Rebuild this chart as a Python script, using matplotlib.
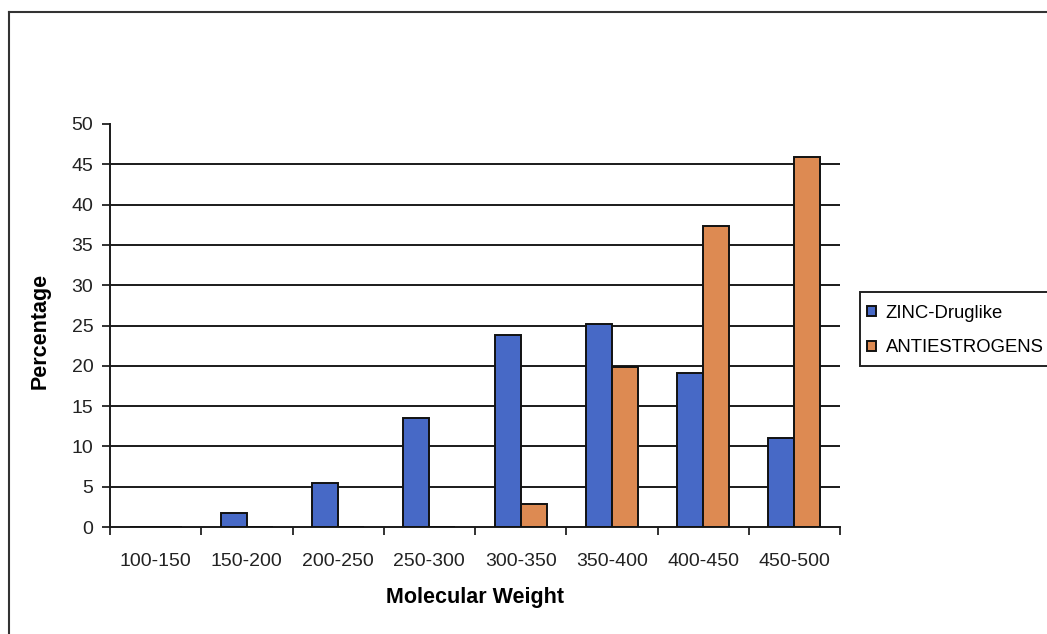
import matplotlib
matplotlib.use("Agg")
import matplotlib.pyplot as plt
from matplotlib.lines import Line2D
from matplotlib.patches import Rectangle
import numpy as np

categories = ["100-150", "150-200", "200-250", "250-300",
              "300-350", "350-400", "400-450", "450-500"]
zinc_druglike = [0.0, 1.7, 5.4, 13.5, 23.8, 25.2, 19.1, 11.1]
antiestrogens = [0.0, 0.0, 0.0, 0.0, 2.9, 19.8, 37.3, 45.9]
series_names = ["ZINC-Druglike", "ANTIESTROGENS"]
y_ticks = [0, 5, 10, 15, 20, 25, 30, 35, 40, 45, 50]

plt.rcParams["font.family"] = ["Liberation Sans", "DejaVu Sans"]

W, H = 1047, 634
fig = plt.figure(figsize=(W / 100, H / 100), dpi=100, facecolor="white")
ax = fig.add_axes([110 / W, 1 - 527 / H, 730 / W, 403 / H])
ax.set_facecolor("none")

x = np.arange(len(categories))
bw = 0.285
blue = "#4769c6"
orange = "#dd8a52"
ax.bar(x - bw / 2, zinc_druglike, width=bw, color=blue, edgecolor="#111111",
       linewidth=1.4, label=series_names[0], zorder=3)
ax.bar(x + bw / 2, antiestrogens, width=bw, color=orange, edgecolor="#111111",
       linewidth=1.4, label=series_names[1], zorder=3)

ax.set_xlim(-0.5, len(categories) - 0.5)
ax.set_ylim(0, 50)
ax.set_yticks(y_ticks)
ax.set_yticklabels([str(t) for t in y_ticks], fontsize=14, color="#222222")
ax.set_xticks(x)
ax.set_xticklabels(categories, fontsize=14, color="#222222")
ax.tick_params(axis="x", which="major", length=0, pad=19)
ax.set_xticks(np.arange(len(categories) + 1) - 0.5, minor=True)
ax.tick_params(axis="x", which="minor", length=6, width=1.3, color="#222222")
ax.tick_params(axis="y", length=6, width=1.3, color="#222222", pad=6)

# horizontal gridlines at every major step except the top
for t in y_ticks[1:-1]:
    ax.axhline(t, color="#1a1a1a", linewidth=1.4, zorder=1)

for side in ("top", "right"):
    ax.spines[side].set_visible(False)
for side in ("left", "bottom"):
    ax.spines[side].set_color("#1a1a1a")
    ax.spines[side].set_linewidth(1.4)

ax.set_xlabel("Molecular Weight", fontsize=15.5, fontweight="bold")
ax.set_ylabel("Percentage", fontsize=15.5, fontweight="bold")
ax.xaxis.set_label_coords((475 - 110) / 730, -(598 - 527) / 403)
ax.yaxis.set_label_coords(-(110 - 40) / 730, (527 - 331) / 403)
ax.xaxis.label.set_verticalalignment("center")
ax.yaxis.label.set_verticalalignment("center")

# outer chart frame (left and top edges)
fig.add_artist(Line2D([9 / W, 9 / W], [0, 1 - 12 / H], color="#333333",
                      linewidth=1.5, transform=fig.transFigure))
fig.add_artist(Line2D([9 / W, 1], [1 - 12 / H, 1 - 12 / H], color="#333333",
                      linewidth=1.5, transform=fig.transFigure))

# legend box
fig.add_artist(Rectangle((860 / W, 1 - 366 / H), 0.2, 74 / H,
                         transform=fig.transFigure, facecolor="white",
                         edgecolor="#222222", linewidth=1.4))
fig.legend(loc="upper left", bbox_to_anchor=(863 / W, 1 - 301 / H),
           frameon=False, fontsize=13.3, handlelength=0.48, handleheight=0.48,
           handletextpad=0.55, labelspacing=0.95, borderpad=0.2,
           borderaxespad=0)

fig.savefig("out.png", dpi=100, facecolor="white")
